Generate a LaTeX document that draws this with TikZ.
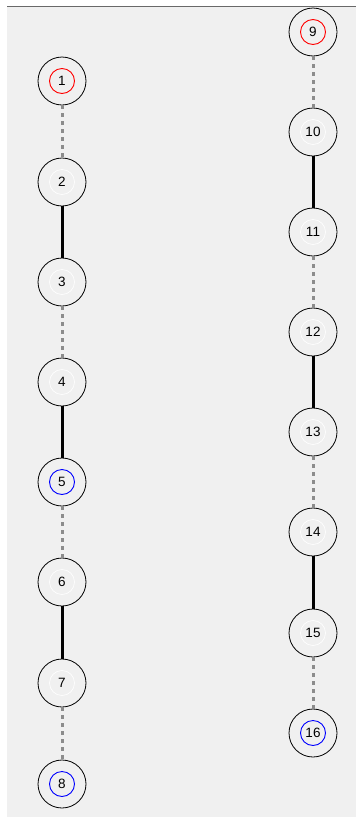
\documentclass[tikz,border=0pt]{standalone}
\usepackage{fontspec}
\setmainfont{Liberation Sans}
\usetikzlibrary{calc}
\definecolor{chpanel}{HTML}{F0F0F0}
\definecolor{chframe}{HTML}{696969}
\definecolor{chdot}{HTML}{8C8C8C}
\definecolor{chred}{HTML}{FF0000}
\definecolor{chblue}{HTML}{0000FF}
\begin{document}
\begin{tikzpicture}[
        x=1pt, y=-1pt,
        every node/.style={font=\fontsize{13.5}{15}\selectfont},
        v/.style={
          circle, draw=black, line width=0.8pt,
          fill=chpanel, inner sep=0pt,
          minimum size=48pt,
          path picture={\draw[white, line width=0.6pt]
            (path picture bounding box.center) circle (12.5pt);},
        },
        vs/.style={v,
          path picture={\draw[chred, line width=0.9pt]
            (path picture bounding box.center) circle (12.5pt);},
        },
        ve/.style={v,
          path picture={\draw[chblue, line width=0.9pt]
            (path picture bounding box.center) circle (12.5pt);},
        },
        weak/.style={draw=chdot, line width=3pt, dash pattern=on 4pt off 4pt},
        strong/.style={draw=black, line width=3pt},
      ]
      \useasboundingbox (0,0) rectangle (356,817);
      \fill[white] (0,0) rectangle (356,817);
      \fill[chpanel] (7,7) rectangle (356,817);
      \draw[chframe, line width=1.5pt] (7,6.5) -- (356,6.5);
      % left chain
      \node[vs] (n1) at (62, 81)  {1};
      \node[v]  (n2) at (62,182)  {2};
      \node[v]  (n3) at (62,282)  {3};
      \node[v]  (n4) at (62,382)  {4};
      \node[ve] (n5) at (62,482)  {5};
      \node[v]  (n6) at (62,582)  {6};
      \node[v]  (n7) at (62,683)  {7};
      \node[ve] (n8) at (62,784)  {8};
      % right chain
      \node[vs] (n9)  at (313, 32) {9};
      \node[v]  (n10) at (313,132) {10};
      \node[v]  (n11) at (313,232) {11};
      \node[v]  (n12) at (313,332) {12};
      \node[v]  (n13) at (313,432) {13};
      \node[v]  (n14) at (313,532) {14};
      \node[v]  (n15) at (313,633) {15};
      \node[ve] (n16) at (313,733) {16};
      \draw[weak]   (n1)  -- (n2);
      \draw[strong] (n2)  -- (n3);
      \draw[weak]   (n3)  -- (n4);
      \draw[strong] (n4)  -- (n5);
      \draw[weak]   (n5)  -- (n6);
      \draw[strong] (n6)  -- (n7);
      \draw[weak]   (n7)  -- (n8);
      \draw[weak]   (n9)  -- (n10);
      \draw[strong] (n10) -- (n11);
      \draw[weak]   (n11) -- (n12);
      \draw[strong] (n12) -- (n13);
      \draw[weak]   (n13) -- (n14);
      \draw[strong] (n14) -- (n15);
      \draw[weak]   (n15) -- (n16);
    \end{tikzpicture}
\end{document}
